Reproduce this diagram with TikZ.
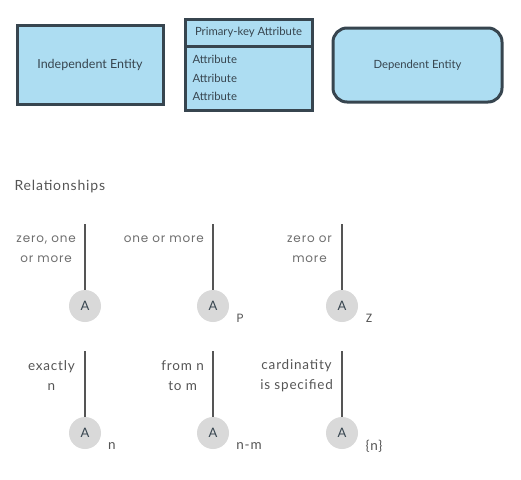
\documentclass[tikz,border=0pt]{standalone}
\usepackage{fontspec}
\setmainfont{Lato}
\newfontfamily\relfont[LetterSpace=6]{Lato}
\newfontfamily\geofont[LetterSpace=7]{Poppins}
\usepackage{xcolor}
\usepackage{tikz}
\usetikzlibrary{positioning}
\definecolor{entfill}{HTML}{ADDDF2}
\definecolor{entline}{HTML}{37454F}
\definecolor{relgray}{HTML}{555555}
\definecolor{dotfill}{HTML}{D9D9D9}

\begin{document}
\begin{tikzpicture}[
    x=1pt, y=-1pt,
    entity/.style={draw=entline, line width=3pt, fill=entfill, text=entline, font=\fontsize{12.5}{14}\selectfont},
    attr/.style={entity, font=\fontsize{11.3}{18.5}\selectfont},
    rel/.style={draw=relgray, line width=1.2pt},
    dot/.style={circle, fill=dotfill, minimum size=32pt, inner sep=0pt, text=entline, font=\fontsize{13}{15}\selectfont},
    card/.style={text=relgray, align=center, anchor=east, inner sep=0pt, font=\relfont\fontsize{13.5}{20}\selectfont},
    geocard/.style={card, text=relgray!85, font=\geofont\fontsize{12}{20}\selectfont},
    tag/.style={text=relgray, font=\relfont\fontsize{13.5}{15}\selectfont}
]
    \useasboundingbox (0,0) rectangle (521,479);

    % entities
    \node[entity, minimum width=146pt, minimum height=79pt] (indep) at (90,64.5) {Independent Entity};
    \node[attr, minimum width=127pt, minimum height=64pt, text width=112pt, align=left] (attrs) at (248.5,78) {Attribute\\Attribute\\Attribute};
    \node[entity, minimum width=127pt, minimum height=27pt, font=\fontsize{11.3}{13}\selectfont] (pk) at (248.5,32.5) {Primary-key Attribute};
    \node[entity, rounded corners=14pt, minimum width=169pt, minimum height=74pt, font=\fontsize{11.3}{13}\selectfont] (dep) at (417.5,65) {Dependent Entity};

    \node[anchor=west, text=relgray, font=\relfont\fontsize{14}{16}\selectfont] (title) at (11,187) {Relationships};

    % first row
    \node[dot] (d1) at (85,306) {A};
    \node[dot] (d2) at (213,306) {A};
    \node[dot] (d3) at (342,306) {A};
    \coordinate (t1) at (85,224);
    \coordinate (t2) at (213,224);
    \coordinate (t3) at (342,224);
    \draw[rel] (t1) -- (d1);
    \draw[rel] (t2) -- (d2);
    \draw[rel] (t3) -- (d3);
    \node[geocard] (c1) at (76,249) {zero, one\\or more};
    \node[geocard] (c2) at (204,239) {one or more};
    \node[geocard] (c3) at (332,249) {zero or\\more};
    \node[tag, font=\geofont\fontsize{12}{14}\selectfont] (p) at (240,318) {P};
    \node[tag, font=\geofont\fontsize{12}{14}\selectfont] (z) at (369,318) {Z};

    % second row
    \node[dot] (d4) at (85,433) {A};
    \node[dot] (d5) at (213,433) {A};
    \node[dot] (d6) at (342,433) {A};
    \coordinate (t4) at (85,351);
    \coordinate (t5) at (213,351);
    \coordinate (t6) at (342,351);
    \draw[rel] (t4) -- (d4);
    \draw[rel] (t5) -- (d5);
    \draw[rel] (t6) -- (d6);
    \node[card] (c4) at (75,376) {exactly\\n};
    \node[card] (c5) at (204,376) {from n\\to m};
    \node[card] (c6) at (333,376) {cardinatity\\is specified};
    \node[tag] (n1) at (112,446) {n};
    \node[tag] (n2) at (249,446) {n-m};
    \node[tag] (n3) at (374,446) {\{n\}};
\end{tikzpicture}
\end{document}
